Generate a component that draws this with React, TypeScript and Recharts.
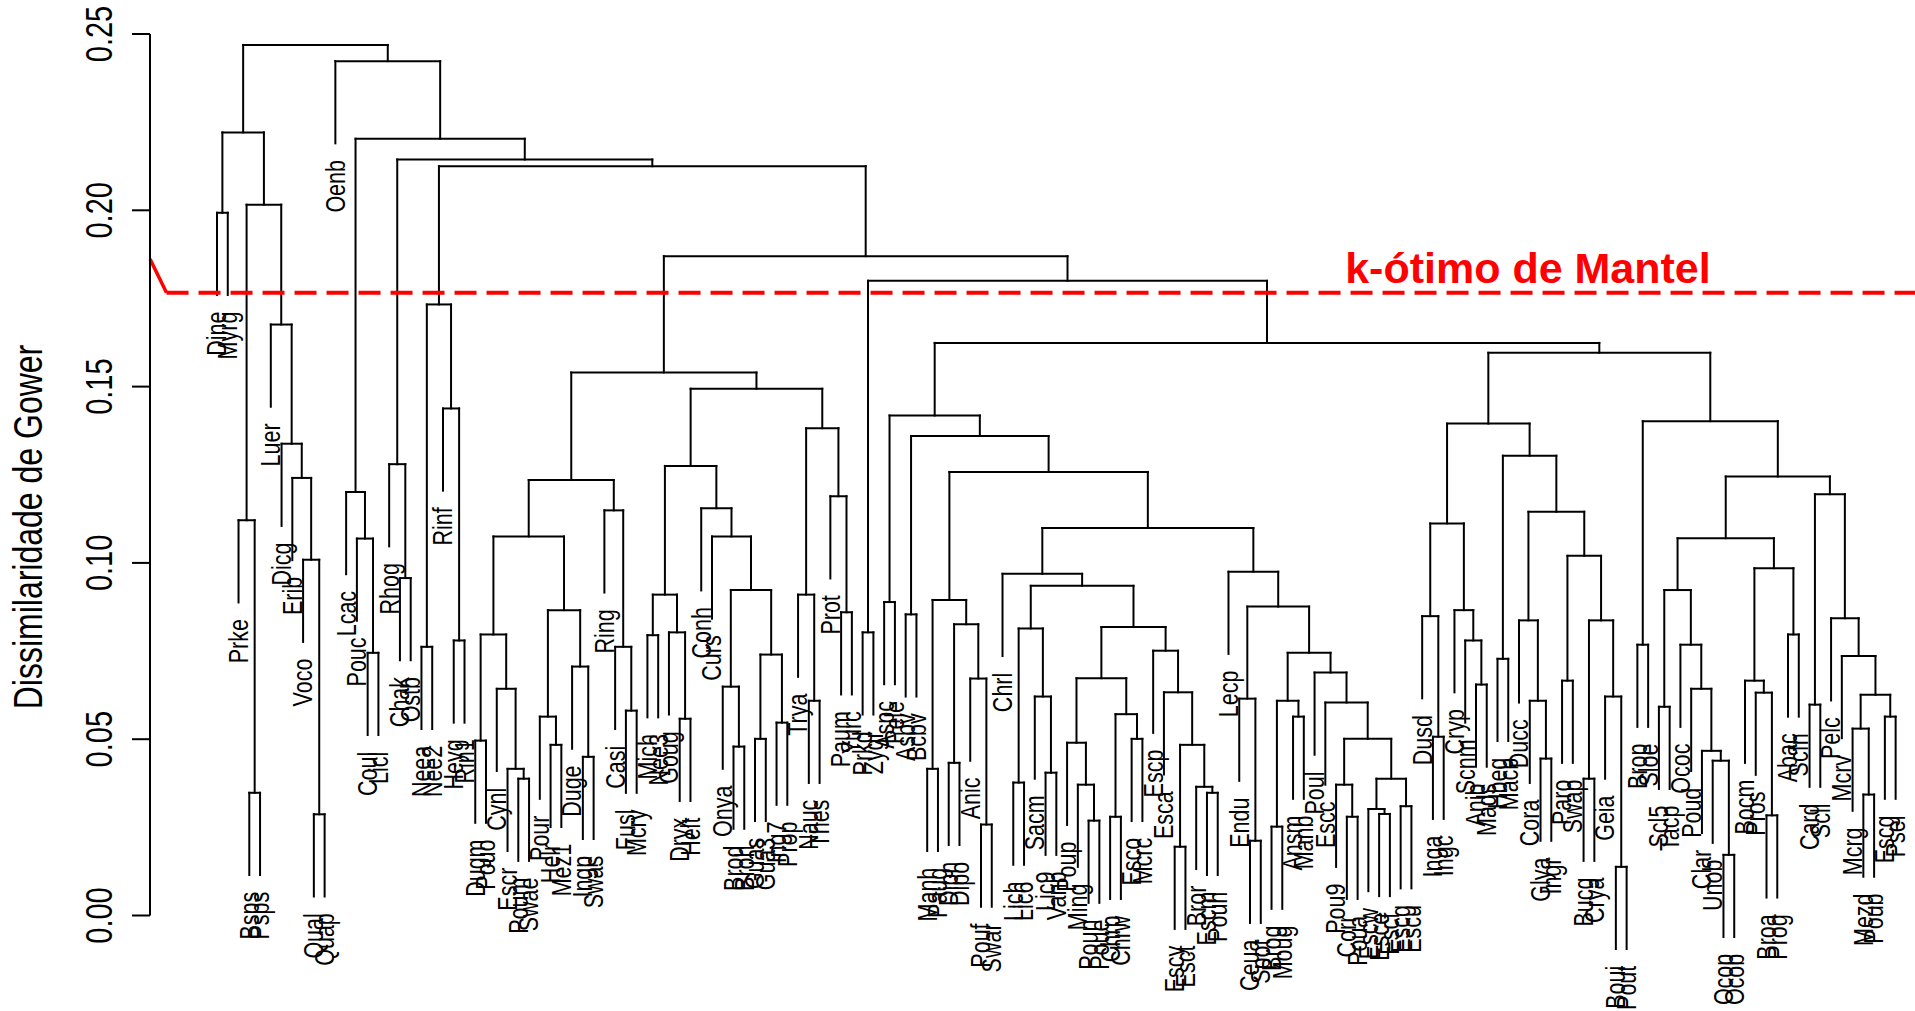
import React from 'react'
import { ScatterChart, Scatter, XAxis, YAxis, ReferenceLine, ReferenceDot } from 'recharts'

// leaves in plotted order (left to right)
const leafLabels = [
  'Dine', 'Myrg', 'Prke', 'Bsps', 'Psps', 'Luer', 'Dicg', 'Erib', 'Voco', 'Qual',
  'Quap', 'Oenb', 'Lcac', 'Pouc', 'Coul', 'Licl', 'Rhog', 'Chak', 'Ostb', 'Neea',
  'Nee2', 'Rinf', 'Heyg', 'Rin1', 'Dugm', 'Pouo', 'Cynl', 'Escr', 'Poum', 'Swae',
  'Pour', 'Helr', 'Mez1', 'Duge', 'Ingp', 'Swas', 'Ring', 'Casi', 'Fusl', 'Mcry',
  'Mich', 'Nee3', 'Goug', 'Dryx', 'Helt', 'Conh', 'Curs', 'Onya', 'Brod', 'Broh',
  'Guas', 'Gua3', 'Ing7', 'Prop', 'Trya', 'Nauc', 'Thes', 'Prot', 'Paum', 'Yurc',
  'Prkd', 'Zygr', 'Aspc', 'Pele', 'Asbv', 'Bcbv', 'Manh', 'Paug', 'Dipn', 'Dipo',
  'Anic', 'Pouf', 'Swar', 'Chrl', 'Lich', 'Lic6', 'Sacm', 'Lic9', 'Vanb', 'Poup',
  'Ming', 'Poun', 'Poue', 'Chrp', 'Chrw', 'Esco', 'Mcrc', 'Escp', 'Esca', 'Escy',
  'Esct', 'Bror', 'Escm', 'Pouh', 'Lecp', 'Endu', 'Ceua', 'Spot', 'Brog', 'Moug',
  'Ansm', 'Manb', 'Poul', 'Escc', 'Pou9', 'Corr', 'Poua', 'Escw', 'Esce', 'Escf',
  'Escg', 'Escu', 'Dusd', 'Inga', 'Ingc', 'Cryp', 'Scnm', 'Anib', 'Mads', 'Hbeg',
  'Macb', 'Ducc', 'Cora', 'Glya', 'Ingr', 'Paro', 'Swap', 'Bucg', 'Crya', 'Geia',
  'Boui', 'Pout', 'Brop', 'Sloe', 'Scl5', 'Tacp', 'Ococ', 'Poud', 'Clar', 'Unob',
  'Ocop', 'Ocob', 'Bocm', 'Pros', 'Broa', 'Prog', 'Abac', 'Scfn', 'Card', 'Scll',
  'Pelc', 'Mcrv', 'Mcrg', 'Mezd', 'Poub', 'Escg', 'Psel',
]

// hclust-style merges: negative = leaf (1-based), positive = earlier merge row
const mergePairs: [number, number][] = [
  [-1, -2], [-4, -5], [-3, 2], [-10, -11], [-9, 4], [-8, 5], [-7, 6], [-6, 7], [3, 8], [1, 9],
  [-15, -16], [-14, 11], [-13, 12], [-18, -19], [-17, 14], [-20, -21], [-23, -24], [-22, 17], [16, 18], [-25, -26],
  [-29, -30], [-28, 21], [-27, 22], [20, 23], [-32, -33], [-31, 25], [-35, -36], [-34, 27], [26, 28], [24, 29],
  [-39, -40], [-38, 31], [-37, 32], [30, 33], [-41, -42], [-44, -45], [-43, 36], [35, 37], [-49, -50], [-48, 39],
  [-51, -52], [-53, -54], [41, 42], [40, 43], [-47, 44], [-46, 45], [38, 46], [-56, -57], [-55, 48], [-59, -60],
  [-58, 50], [49, 51], [47, 52], [34, 53], [-61, -62], [-63, -64], [-65, -66], [-67, -68], [-69, -70], [-72, -73],
  [-71, 60], [59, 61], [58, 62], [-75, -76], [-78, -79], [-77, 65], [64, 66], [-82, -83], [-81, 68], [-80, 69],
  [-84, -85], [-86, -87], [71, 72], [70, 73], [-90, -91], [-93, -94], [-92, 76], [75, 77], [-89, 78], [-88, 79],
  [74, 80], [67, 81], [-74, 82], [-97, -98], [-96, 84], [-99, -100], [-101, -102], [86, 87], [-106, -107], [-105, 89],
  [-109, -110], [-108, 91], [-111, -112], [92, 93], [90, 94], [-104, 95], [-103, 96], [88, 97], [85, 98], [-95, 99],
  [83, 100], [63, 101], [57, 102], [56, 103], [-114, -115], [-113, 105], [-118, -119], [-117, 107], [-116, 108], [106, 109],
  [-120, -121], [-124, -125], [-123, 112], [-122, 113], [-126, -127], [-128, -129], [-131, -132], [-130, 117], [116, 118], [115, 119],
  [114, 120], [111, 121], [110, 122], [-133, -134], [-135, -136], [-141, -142], [-140, 126], [-139, 127], [-138, 128], [-137, 129],
  [125, 130], [-145, -146], [-144, 132], [-143, 133], [-147, -148], [134, 135], [131, 136], [-149, -150], [-154, -155], [-153, 139],
  [-156, -157], [140, 141], [-152, 142], [-151, 143], [138, 144], [137, 145], [124, 146], [123, 147], [104, 148], [55, 149],
  [54, 150], [19, 151], [15, 152], [13, 153], [-12, 154], [10, 155],
]

const mergeHeights = [
  0.1993, 0.0348, 0.1121, 0.0287, 0.1009, 0.1241, 0.1338, 0.1676, 0.2016, 0.2221,
  0.0745, 0.1069, 0.1201, 0.0957, 0.128, 0.0762, 0.078, 0.1438, 0.1733, 0.0496,
  0.0388, 0.0416, 0.0643, 0.0797, 0.0484, 0.0564, 0.045, 0.0706, 0.0866, 0.1075,
  0.0581, 0.0762, 0.1149, 0.1235, 0.0795, 0.0558, 0.0803, 0.091, 0.0479, 0.0649,
  0.0501, 0.0547, 0.074, 0.0923, 0.1075, 0.1155, 0.1275, 0.0609, 0.091, 0.086,
  0.1189, 0.1382, 0.1494, 0.154, 0.0803, 0.0889, 0.0854, 0.0416, 0.0433, 0.0258,
  0.0672, 0.0826, 0.0895, 0.0377, 0.0405, 0.0621, 0.0814, 0.0269, 0.0371, 0.049,
  0.028, 0.0501, 0.0571, 0.0673, 0.0195, 0.0348, 0.0365, 0.0484, 0.0633, 0.0751,
  0.0818, 0.0935, 0.0969, 0.0212, 0.0615, 0.0252, 0.0564, 0.0609, 0.028, 0.0371,
  0.0288, 0.0302, 0.031, 0.0388, 0.0501, 0.0604, 0.0689, 0.0745, 0.0876, 0.0975,
  0.1099, 0.1258, 0.136, 0.1418, 0.0507, 0.0849, 0.0655, 0.078, 0.0866, 0.1112,
  0.0728, 0.0445, 0.0609, 0.0837, 0.0666, 0.0388, 0.0138, 0.0621, 0.0837, 0.102,
  0.1145, 0.1304, 0.1395, 0.0768, 0.0592, 0.0172, 0.0439, 0.0467, 0.0643, 0.0768,
  0.0923, 0.0284, 0.0632, 0.0666, 0.0797, 0.0985, 0.107, 0.0598, 0.0343, 0.053,
  0.0564, 0.0626, 0.0736, 0.0843, 0.1195, 0.1245, 0.1402, 0.1596, 0.1624, 0.18,
  0.187, 0.2125, 0.2144, 0.2203, 0.2423, 0.2469,
]

const yTicks = [0, 0.05, 0.1, 0.15, 0.2, 0.25]
const mantelCut = 0.1766
const mantelStart = 0.1862
const mantelText = 'k-ótimo de Mantel'
const yTitle = 'Dissimilaridade de Gower'

const FONT = '"Liberation Sans", Arial, Helvetica, sans-serif'
const X_MIN = -5.227
const X_MAX = 158.8

// same layout as plot.hclust: leaf i at x=i, node at midpoint of its children
const hang = 0.1 * (Math.max(...mergeHeights) - Math.min(...mergeHeights))
const nodeX: number[] = []
const leafBottom: number[] = []
const segments: { x: number; y: number }[][] = []
mergePairs.forEach(([a, b], i) => {
  const h = mergeHeights[i]
  const xs = [a, b].map((c) => (c < 0 ? -c : nodeX[c - 1]))
  const ys = [a, b].map((c) => (c < 0 ? h - hang : mergeHeights[c - 1]))
  ;[a, b].forEach((c) => {
    if (c < 0) leafBottom[-c - 1] = h - hang
  })
  nodeX[i] = (xs[0] + xs[1]) / 2
  segments.push([{ x: xs[0], y: ys[0] }, { x: xs[0], y: h }])
  segments.push([{ x: xs[0], y: h }, { x: xs[1], y: h }])
  segments.push([{ x: xs[1], y: h }, { x: xs[1], y: ys[1] }])
})

const leafData = leafLabels.map((name, i) => ({ x: i + 1, y: leafBottom[i], name }))
const mantelLabelData = [{ x: 122.83, y: 0.1794 }]

function LeafLabel(props: any) {
  const { cx, cy, name } = props
  return (
    <text
      transform={`translate(${cx},${cy + 16.7}) rotate(-90) scale(1,1.25)`}
      textAnchor="end"
      dominantBaseline="central"
      fontSize={21.5}
      fontFamily={FONT}
      fill="#000"
    >
      {name}
    </text>
  )
}

function MantelLabel(props: any) {
  const { cx, cy } = props
  return (
    <text x={cx} y={cy} textAnchor="middle" fontSize={43} fontWeight="bold" fontFamily={FONT} fill="#ff0000">
      {mantelText}
    </text>
  )
}

function YTick(props: any) {
  const { y, payload } = props
  return (
    <text
      transform={`translate(112,${y}) rotate(-90) scale(1,1.25)`}
      textAnchor="middle"
      fontSize={29}
      fontFamily={FONT}
      fill="#000"
    >
      {Number(payload.value).toFixed(2)}
    </text>
  )
}

function YTitle() {
  return (
    <text
      transform="translate(41.5,527) rotate(-90) scale(1,1.25)"
      textAnchor="middle"
      fontSize={32}
      fontFamily={FONT}
      fill="#000"
    >
      {yTitle}
    </text>
  )
}

export default function App() {
  return (
    <div style={{ position: 'absolute', left: 0, top: 0, width: 1915, height: 1011, overflow: 'hidden', background: '#fff' }}>
      <ScatterChart width={1915} height={1011} margin={{ top: 34, right: 0, bottom: 95.5, left: 0 }}>
        <XAxis type="number" dataKey="x" domain={[X_MIN, X_MAX]} allowDataOverflow hide height={0} />
        <YAxis
          type="number"
          dataKey="y"
          domain={[0, 0.25]}
          ticks={yTicks}
          interval={0}
          allowDataOverflow
          width={150}
          tickSize={18}
          axisLine={{ stroke: '#000', strokeWidth: 2 }}
          tickLine={{ stroke: '#000', strokeWidth: 2 }}
          tick={<YTick />}
          label={<YTitle />}
        />
        {segments.map((seg, i) => (
          <ReferenceLine
            key={i}
            segment={seg}
            stroke="#000"
            strokeWidth={2}
            strokeLinecap="square"
            ifOverflow="visible"
          />
        ))}
        <ReferenceLine
          segment={[{ x: X_MIN, y: mantelStart }, { x: -3.69, y: mantelCut }]}
          stroke="#ff0000"
          strokeWidth={3.5}
          ifOverflow="visible"
        />
        <ReferenceLine
          segment={[{ x: -3.69, y: mantelCut }, { x: X_MAX, y: mantelCut }]}
          stroke="#ff0000"
          strokeWidth={4}
          strokeDasharray="22 10"
          ifOverflow="visible"
        />
        {leafData.map((d, i) => (
          <ReferenceDot
            key={`leaf-${i}`}
            x={d.x}
            y={d.y}
            r={1}
            ifOverflow="visible"
            shape={(p: any) => <LeafLabel {...p} name={d.name} />}
          />
        ))}
        <Scatter data={mantelLabelData} shape={<MantelLabel />} isAnimationActive={false} />
      </ScatterChart>
    </div>
  )
}
